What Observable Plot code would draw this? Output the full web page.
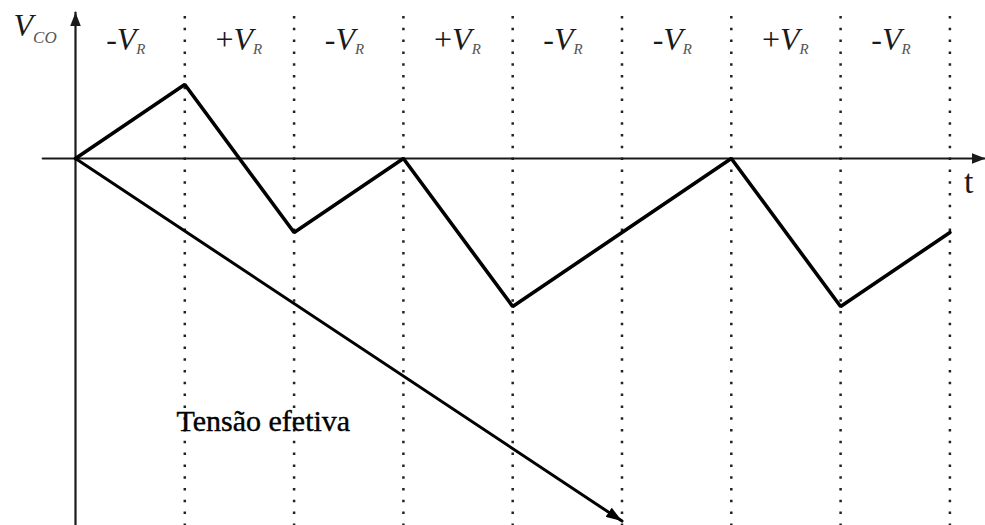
<!DOCTYPE html>
<html>
<head>
<meta charset="utf-8">
<script src="https://cdn.jsdelivr.net/npm/d3@7"></script>
<script src="https://cdn.jsdelivr.net/npm/@observablehq/plot@0.6"></script>
<style>
  html, body { margin: 0; padding: 0; background: #fff; }
</style>
</head>
<body>
<div id="chart"></div>
<script>
// Switching intervals (boundaries in units of one switching period)
const boundaries = [1, 2, 3, 4, 5, 6, 7, 8];
const intervalLabels = ["-V_R", "+V_R", "-V_R", "+V_R", "-V_R", "-V_R", "+V_R", "-V_R"];

// Capacitor voltage V_CO at each boundary
const times = [0, 1, 2, 3, 4, 5, 6, 7, 8];
const vco = [0, 1, -1, 0, -2, -1, 0, -2, -1];

// Effective voltage ramp
const effectiveT = [0, 5];
const effectiveV = [0, -4.9];

// Axis extents
const tAxisRange = [-0.3, 8.326];
const vAxisRange = [-4.96, 1.973];
const gridRange = [1.919, -4.96];

// Text annotations
const labelV = 1.46;
const axisTitle = {t: -0.567, v: 1.66, s: "V_CO"};
const timeLabel = {t: 8.13, v: -0.47, s: "t"};
const effectiveLabel = {t: 0.924, v: -3.68, s: "Tensão efetiva"};

// Layout
const W = 985, H = 525;
const originX = 75, originY = 158, pxPerT = 109.3, pxPerV = 74;
const serif = "'Liberation Serif', 'Times New Roman', serif";

const intervals = intervalLabels.map((s, i) => ({t: i + 0.5, v: labelV, s}));
const zigzag = times.map((t, i) => ({t, v: vco[i]}));
const effective = effectiveT.map((t, i) => ({t, v: effectiveV[i]}));
const vAxis = vAxisRange.map(v => ({t: 0, v}));
const tAxis = tAxisRange.map(t => ({t, v: 0}));

const chart = Plot.plot({
  width: W,
  height: H,
  margin: 0,
  x: {domain: [-originX / pxPerT, (W - originX) / pxPerT], range: [0, W], axis: null},
  y: {domain: [-(H - originY) / pxPerV, originY / pxPerV], range: [H, 0], axis: null},
  marks: [
    Plot.ruleX(boundaries, {
      x: d => d, y1: gridRange[0], y2: gridRange[1],
      stroke: "#222", strokeWidth: 2.5, strokeDasharray: "2.5 9.3"
    }),
    Plot.line(vAxis, {x: "t", y: "v", stroke: "#1a1a1a", strokeWidth: 2.2, ariaDescription: "arrow-axis"}),
    Plot.line(tAxis, {x: "t", y: "v", stroke: "#1a1a1a", strokeWidth: 2.2, ariaDescription: "arrow-axis"}),
    Plot.line(zigzag, {x: "t", y: "v", stroke: "#000", strokeWidth: 3.6, strokeLinejoin: "miter"}),
    Plot.line(effective, {x: "t", y: "v", stroke: "#000", strokeWidth: 3, ariaDescription: "arrow-effective"}),
    Plot.text(intervals, {
      x: "t", y: "v", text: "s", textAnchor: "start", lineAnchor: "bottom",
      dx: -24, fontSize: 32, fontFamily: serif, fill: "#1a1a1a"
    }),
    Plot.text([axisTitle], {
      x: "t", y: "v", text: "s", textAnchor: "start", lineAnchor: "bottom",
      fontSize: 32, fontFamily: serif, fill: "#1a1a1a"
    }),
    Plot.text([timeLabel], {
      x: "t", y: "v", text: "s", textAnchor: "start", lineAnchor: "bottom",
      fontSize: 34, fontFamily: serif, fill: "#1a1a1a"
    }),
    Plot.text([effectiveLabel], {
      x: "t", y: "v", text: "s", textAnchor: "start", lineAnchor: "bottom",
      fontSize: 30, fontFamily: serif, fill: "#000", stroke: "#000", strokeWidth: 0.4
    })
  ]
});

// Filled arrowheads for the axes and the effective-voltage ramp
const svg = d3.select(chart);
const defs = svg.insert("defs", ":first-child");
function addHead(id, len, wid, color) {
  defs.append("marker")
    .attr("id", id)
    .attr("viewBox", `0 0 ${len} ${wid}`)
    .attr("refX", len).attr("refY", wid / 2)
    .attr("markerWidth", len).attr("markerHeight", wid)
    .attr("markerUnits", "userSpaceOnUse")
    .attr("orient", "auto")
    .append("path")
    .attr("d", `M0,0L${len},${wid / 2}L0,${wid}Z`)
    .attr("fill", color);
}
addHead("head-axis", 14, 11, "#1a1a1a");
addHead("head-effective", 16, 11, "#000");
svg.selectAll("g[aria-description='arrow-axis'] path").attr("marker-end", "url(#head-axis)");
svg.selectAll("g[aria-description='arrow-effective'] path").attr("marker-end", "url(#head-effective)");

// Italic symbol with a smaller grey subscript: "-V_R" -> -V(R)
const subStyle = {R: {size: 15, dy: 4}, CO: {size: 17, dy: 7}};
svg.selectAll("text").each(function() {
  const m = this.textContent.match(/^([+-]?)V_(\w+)$/);
  if (!m) return;
  const el = d3.select(this);
  el.text(null);
  if (m[1]) el.append("tspan").attr("font-style", "normal").text(m[1]);
  el.append("tspan").attr("font-style", "italic").text("V");
  const st = subStyle[m[2]] || {size: 14, dy: 5};
  el.append("tspan")
    .attr("font-style", "italic")
    .attr("font-size", st.size)
    .attr("dy", st.dy)
    .attr("fill", "#555")
    .text(m[2]);
});

document.getElementById("chart").appendChild(chart);
</script>
</body>
</html>
